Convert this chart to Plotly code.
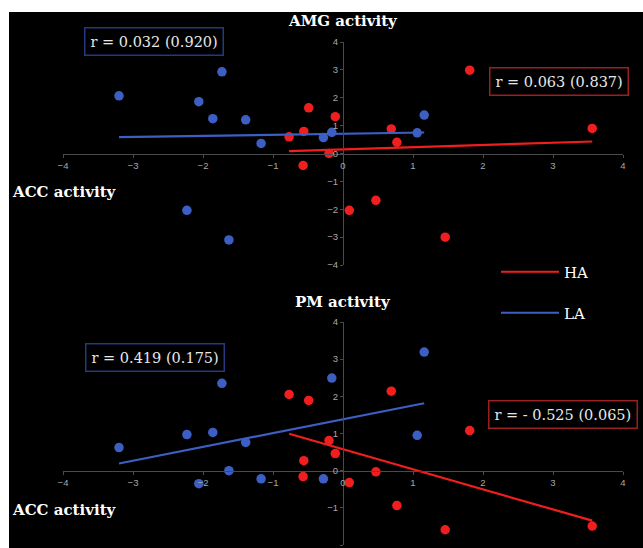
import numpy as np
import plotly.graph_objects as go

# ---- data ----
ha_acc = [-0.77, -0.57, -0.56, -0.49, -0.20, -0.11, 0.09, 0.47, 0.69, 0.77, 1.46, 1.81, 3.56]
ha_amg = [0.60, -0.43, 0.79, 1.64, 0.00, 1.32, -2.04, -1.68, 0.88, 0.40, -3.00, 2.99, 0.90]
ha_pm = [2.05, -0.16, 0.27, 1.89, 0.81, 0.46, -0.32, -0.03, 2.14, -0.94, -1.59, 1.08, -1.49]

la_acc = [-3.20, -2.23, -2.06, -1.86, -1.73, -1.63, -1.39, -1.17, -0.28, -0.16, 1.06, 1.16]
la_amg = [2.07, -2.04, 1.86, 1.25, 2.93, -3.10, 1.21, 0.36, 0.57, 0.76, 0.74, 1.38]
la_pm = [0.62, 0.97, -0.35, 1.03, 2.35, 0.00, 0.76, -0.22, -0.22, 2.49, 0.95, 3.19]

stats_top = {"LA": "r = 0.032 (0.920)", "HA": "r = 0.063 (0.837)"}
stats_bot = {"LA": "r = 0.419 (0.175)", "HA": "r = - 0.525 (0.065)"}

x_ticks = [-4, -3, -2, -1, 0, 1, 2, 3, 4]
y_ticks_top = [-4, -3, -2, -1, 0, 1, 2, 3, 4]
y_ticks_bot = [-2, -1, 0, 1, 2, 3, 4]

RED = "#f01e1e"
BLUE = "#3d5fc4"
W, H = 643, 548


def fit_line(x, y):
    x = np.asarray(x, float)
    y = np.asarray(y, float)
    k, b = np.polyfit(x, y, 1)
    xs = np.array([x.min(), x.max()])
    return xs, k * xs + b


fig = go.Figure()


def add_panel(xa, ya, ha_y, la_y, legend_on):
    for xs_, ys_, col in ((la_acc, la_y, BLUE), (ha_acc, ha_y, RED)):
        fig.add_trace(go.Scatter(x=xs_, y=ys_, mode="markers", xaxis=xa, yaxis=ya,
                                 marker=dict(color=col, size=9.5), showlegend=False,
                                 hoverinfo="skip"))
    lx, ly = fit_line(la_acc, la_y)
    fig.add_trace(go.Scatter(x=lx, y=ly, mode="lines", xaxis=xa, yaxis=ya,
                             line=dict(color=BLUE, width=2.2), name="LA",
                             showlegend=legend_on, legend="legend2"))
    lx, ly = fit_line(ha_acc, ha_y)
    fig.add_trace(go.Scatter(x=lx, y=ly, mode="lines", xaxis=xa, yaxis=ya,
                             line=dict(color=RED, width=2.2), name="HA",
                             showlegend=legend_on, legend="legend"))


add_panel("x", "y", ha_amg, la_amg, True)
add_panel("x2", "y2", ha_pm, la_pm, False)

x_dom = [63 / W, 623 / W]
y0_px = 343 / W
axis_common = dict(showgrid=False, zeroline=False, showline=True, linecolor="#4a4a4a",
                   linewidth=1, ticks="outside", ticklen=3, tickcolor="#4a4a4a",
                   tickfont=dict(family="Liberation Sans", size=9.5, color="#a8a8a8"),
                   anchor="free", automargin=False)

fig.update_layout(
    xaxis=dict(axis_common, domain=x_dom, range=[-4, 4], tickvals=x_ticks,
               position=1 - 153.5 / H),
    yaxis=dict(axis_common, domain=[1 - 265 / H, 1 - 42 / H], range=[-4, 4],
               tickvals=y_ticks_top, position=y0_px),
    xaxis2=dict(axis_common, domain=x_dom, range=[-4, 4], tickvals=x_ticks,
                position=1 - 471 / H),
    yaxis2=dict(axis_common, domain=[1 - 545 / H, 1 - 322 / H], range=[-2, 4],
                tickvals=y_ticks_bot, position=y0_px),
)

title_font = dict(family="DejaVu Serif", size=15, color="white")
box_font = dict(family="DejaVu Serif", size=14.5, color="#e8e8e8")

ann = [
    dict(text="<b>AMG activity</b>", x=343 / W, y=1 - 21 / H, font=title_font),
    dict(text="<b>PM activity</b>", x=343 / W, y=1 - 302 / H, font=title_font),
    dict(text="<b>ACC activity</b>", x=10 / W, y=1 - 192 / H, xanchor="left", font=title_font),
    dict(text="<b>ACC activity</b>", x=10 / W, y=1 - 510 / H, xanchor="left", font=title_font),
    dict(text=stats_top["LA"], x=154 / W, y=1 - 41.5 / H, font=box_font,
         bordercolor="#233a80", borderwidth=1.5, borderpad=5, bgcolor="black"),
    dict(text=stats_top["HA"], x=559 / W, y=1 - 81.5 / H, font=box_font,
         bordercolor="#9a1f1f", borderwidth=1.5, borderpad=5, bgcolor="black"),
    dict(text=stats_bot["LA"], x=154.5 / W, y=1 - 357 / H, font=box_font,
         bordercolor="#233a80", borderwidth=1.5, borderpad=5, bgcolor="black"),
    dict(text=stats_bot["HA"], x=562.5 / W, y=1 - 414.5 / H, font=box_font,
         bordercolor="#9a1f1f", borderwidth=1.5, borderpad=5, bgcolor="black"),
]
for a in ann:
    a.setdefault("xanchor", "center")
    a["yanchor"] = "middle"
    a["xref"] = "paper"
    a["yref"] = "paper"
    a["showarrow"] = False
fig.update_layout(annotations=ann)

# black picture area with a thin white border at top and left, as in the reference
fig.add_shape(type="rect", xref="paper", yref="paper", x0=9 / W, x1=1, y0=0, y1=1 - 12 / H,
              fillcolor="black", line=dict(width=0), layer="below")

legend_font = dict(family="DejaVu Serif", size=15, color="white")
fig.update_layout(
    legend=dict(x=496 / W, y=1 - 272 / H, xanchor="left", yanchor="middle",
                bgcolor="rgba(0,0,0,0)", font=legend_font, itemwidth=58),
    legend2=dict(x=496 / W, y=1 - 313 / H, xanchor="left", yanchor="middle",
                 bgcolor="rgba(0,0,0,0)", font=legend_font, itemwidth=58),
)

fig.update_layout(width=W, height=H, autosize=False,
                  margin=dict(l=0, r=0, t=0, b=0, pad=0, autoexpand=False),
                  paper_bgcolor="white", plot_bgcolor="rgba(0,0,0,0)",
                  showlegend=True)

fig.write_html("out.html", config={"displayModeBar": False},
               post_script="document.body.style.margin='0';")
